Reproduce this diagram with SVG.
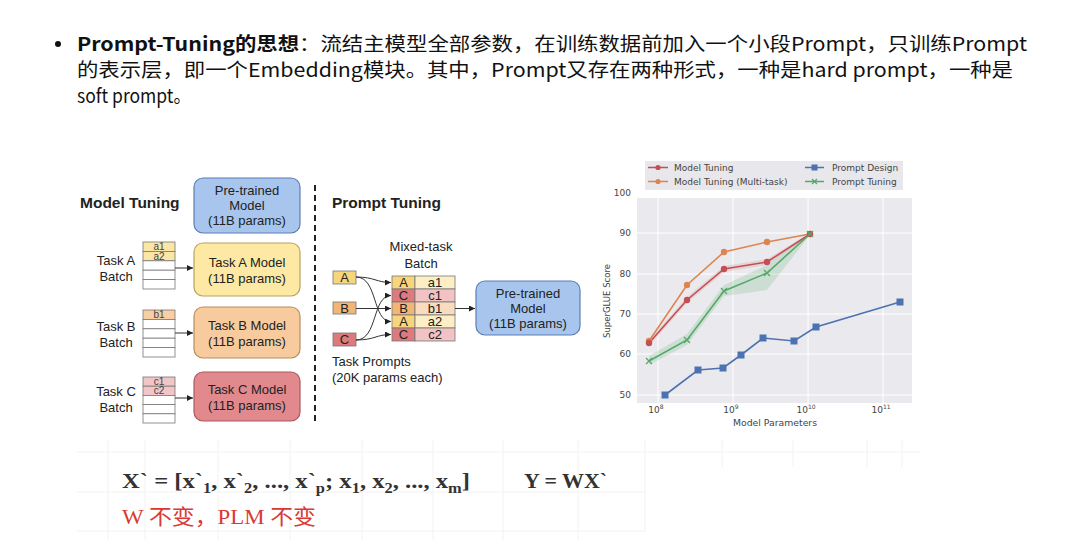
<svg xmlns="http://www.w3.org/2000/svg" width="1080" height="547" viewBox="0 0 1080 547">
<defs>
<style>
.title{font-family:"Noto Sans CJK SC","Noto Sans",sans-serif;font-size:19px;fill:#111}
.d{font-family:"Liberation Sans",Arial,sans-serif;fill:#222}
.lbl{font-size:13px;text-anchor:middle}
.sm{font-size:10px;text-anchor:middle;fill:#444}
.hd{font-size:15.5px;font-weight:bold}
.box{stroke-width:1.2}
.cell{stroke:#777;stroke-width:0.8}
.conn{fill:none;stroke:#333;stroke-width:1}
.ax{font-family:"DejaVu Sans",sans-serif;font-size:9px;fill:#444}
.grid line{stroke:#fff;stroke-width:1}
.bg line{stroke:#f2f2f2;stroke-width:1}
.f{font-family:"Liberation Serif","Noto Sans CJK SC",serif;font-size:21px}
</style>
<marker id="ah" viewBox="0 0 6 6" refX="6" refY="3" markerWidth="6" markerHeight="6" orient="auto" markerUnits="userSpaceOnUse">
<path d="M0,0 L6,3 L0,6 z" fill="#222"/>
</marker>
<g id="sq"><rect x="-3.5" y="-3.5" width="7" height="7" fill="#4C72B0"/></g>
<g id="cx"><path d="M-3,-3 L3,3 M-3,3 L3,-3" stroke="#55A868" stroke-width="1.3"/></g>
</defs>
<rect width="1080" height="547" fill="#fff"/>

<!-- title text -->
<g id="title">
<circle cx="58" cy="44" r="3" fill="#111"/>
<text class="title" x="77" y="51" textLength="950" lengthAdjust="spacingAndGlyphs"><tspan font-weight="bold">Prompt-Tuning的思想</tspan>：流结主模型全部参数，在训练数据前加入一个小段Prompt，只训练Prompt</text>
<text class="title" x="77" y="77" textLength="936" lengthAdjust="spacingAndGlyphs">的表示层，即一个Embedding模块。其中，Prompt又存在两种形式，一种是hard prompt，一种是</text>
<text class="title" x="77" y="103" textLength="114" lengthAdjust="spacingAndGlyphs">soft prompt。</text>
</g>

<!-- faint background grid below -->
<g class="bg">
<line x1="77" y1="452" x2="920" y2="452"/>
<line x1="77" y1="492" x2="645" y2="492"/>
<line x1="77" y1="531" x2="645" y2="531"/>
<line x1="108" y1="440" x2="108" y2="540"/>
<line x1="145" y1="440" x2="145" y2="540"/>
<line x1="218" y1="440" x2="218" y2="540"/>
<line x1="290" y1="440" x2="290" y2="540"/>
<line x1="362" y1="440" x2="362" y2="540"/>
<line x1="433" y1="440" x2="433" y2="540"/>
<line x1="503" y1="440" x2="503" y2="540"/>
<line x1="578" y1="440" x2="578" y2="540"/>
<line x1="645" y1="440" x2="645" y2="531"/>
<line x1="722" y1="440" x2="722" y2="467"/>
<line x1="793" y1="440" x2="793" y2="467"/>
<line x1="867" y1="440" x2="867" y2="467"/>
<line x1="902" y1="440" x2="902" y2="467"/>
</g>

<!-- Model tuning section -->
<text class="d hd" x="80" y="208">Model Tuning</text>
<text class="d hd" x="332" y="208">Prompt Tuning</text>
<line id="divider" x1="315" y1="185" x2="315" y2="424" stroke="#222" stroke-width="2" stroke-dasharray="6 4"/>

<g id="pretrained-left">
<rect class="box" x="194" y="178" width="106" height="55" rx="9" fill="#a8c5ee" stroke="#5b7fb5"/>
<text class="d lbl" x="247" y="195">Pre-trained</text>
<text class="d lbl" x="247" y="210">Model</text>
<text class="d lbl" x="247" y="225">(11B params)</text>
</g>

<g id="taskA">
<text class="d lbl" x="116" y="265">Task A</text>
<text class="d lbl" x="116" y="281">Batch</text>
<rect class="cell" x="143" y="242" width="32" height="9.4" fill="#fbe6a6"/>
<rect class="cell" x="143" y="251.4" width="32" height="9.4" fill="#fbe6a6"/>
<rect class="cell" x="143" y="260.8" width="32" height="9.4" fill="#fff"/>
<rect class="cell" x="143" y="270.2" width="32" height="9.4" fill="#fff"/>
<rect class="cell" x="143" y="279.6" width="32" height="9.4" fill="#fff"/>
<text class="d sm" x="159" y="250">a1</text>
<text class="d sm" x="159" y="259.5">a2</text>
<rect class="box" x="194" y="243" width="106" height="53" rx="9" fill="#fde9a4" stroke="#b9a35a"/>
<text class="d lbl" x="247" y="267">Task A Model</text>
<text class="d lbl" x="247" y="283">(11B params)</text>
</g>

<g id="taskB">
<text class="d lbl" x="116" y="331">Task B</text>
<text class="d lbl" x="116" y="347">Batch</text>
<rect class="cell" x="143" y="310" width="32" height="9.4" fill="#f8cfa5"/>
<rect class="cell" x="143" y="319.4" width="32" height="9.4" fill="#fff"/>
<rect class="cell" x="143" y="328.8" width="32" height="9.4" fill="#fff"/>
<rect class="cell" x="143" y="338.2" width="32" height="9.4" fill="#fff"/>
<rect class="cell" x="143" y="347.6" width="32" height="9.4" fill="#fff"/>
<text class="d sm" x="159" y="318">b1</text>
<rect class="box" x="194" y="307" width="106" height="51" rx="9" fill="#f8cb9e" stroke="#b98d5e"/>
<text class="d lbl" x="247" y="330">Task B Model</text>
<text class="d lbl" x="247" y="346">(11B params)</text>
</g>

<g id="taskC">
<text class="d lbl" x="116" y="396">Task C</text>
<text class="d lbl" x="116" y="412">Batch</text>
<rect class="cell" x="143" y="377" width="32" height="9.2" fill="#f2c5c7"/>
<rect class="cell" x="143" y="386.2" width="32" height="9.2" fill="#f2c5c7"/>
<rect class="cell" x="143" y="395.4" width="32" height="9.2" fill="#fff"/>
<rect class="cell" x="143" y="404.6" width="32" height="9.2" fill="#fff"/>
<rect class="cell" x="143" y="413.8" width="32" height="9.2" fill="#fff"/>
<text class="d sm" x="159" y="385">c1</text>
<text class="d sm" x="159" y="394">c2</text>
<rect class="box" x="194" y="372" width="106" height="49" rx="9" fill="#e2898d" stroke="#a85a5e"/>
<text class="d lbl" x="247" y="394">Task C Model</text>
<text class="d lbl" x="247" y="410">(11B params)</text>
</g>

<!-- Prompt tuning section -->
<g id="prompts">
<rect class="cell" x="333" y="271" width="23" height="13" fill="#f7d57c"/>
<text class="d lbl" x="344.5" y="282" font-size="12">A</text>
<rect class="cell" x="333" y="302" width="23" height="12" fill="#f3b577"/>
<text class="d lbl" x="344.5" y="312.5" font-size="12">B</text>
<rect class="cell" x="333" y="333" width="23" height="13" fill="#dc7a7d"/>
<text class="d lbl" x="344.5" y="344" font-size="12">C</text>
<text class="d" x="332" y="366" font-size="13">Task Prompts</text>
<text class="d" x="332" y="382" font-size="13">(20K params each)</text>
</g>

<g id="mixed-batch">
<text class="d lbl" x="421" y="251">Mixed-task</text>
<text class="d lbl" x="421" y="268">Batch</text>
<rect class="cell" x="392" y="276" width="23" height="13" fill="#f7d57c"/>
<rect class="cell" x="415" y="276" width="40" height="13" fill="#fcefc5"/>
<rect class="cell" x="392" y="289" width="23" height="13" fill="#dc7a7d"/>
<rect class="cell" x="415" y="289" width="40" height="13" fill="#f2c3c4"/>
<rect class="cell" x="392" y="302" width="23" height="13" fill="#f3b577"/>
<rect class="cell" x="415" y="302" width="40" height="13" fill="#f9dcbf"/>
<rect class="cell" x="392" y="315" width="23" height="13" fill="#f7d57c"/>
<rect class="cell" x="415" y="315" width="40" height="13" fill="#fcefc5"/>
<rect class="cell" x="392" y="328" width="23" height="13" fill="#dc7a7d"/>
<rect class="cell" x="415" y="328" width="40" height="13" fill="#f2c3c4"/>
<text class="d lbl" x="403.5" y="287" font-size="12">A</text>
<text class="d lbl" x="435" y="287" font-size="12">a1</text>
<text class="d lbl" x="403.5" y="300" font-size="12">C</text>
<text class="d lbl" x="435" y="300" font-size="12">c1</text>
<text class="d lbl" x="403.5" y="313" font-size="12">B</text>
<text class="d lbl" x="435" y="313" font-size="12">b1</text>
<text class="d lbl" x="403.5" y="326" font-size="12">A</text>
<text class="d lbl" x="435" y="326" font-size="12">a2</text>
<text class="d lbl" x="403.5" y="339" font-size="12">C</text>
<text class="d lbl" x="435" y="339" font-size="12">c2</text>
</g>

<g id="pretrained-right">
<rect class="box" x="476" y="281" width="104" height="54" rx="9" fill="#a8c5ee" stroke="#5b7fb5"/>
<text class="d lbl" x="528" y="298">Pre-trained</text>
<text class="d lbl" x="528" y="313">Model</text>
<text class="d lbl" x="528" y="328">(11B params)</text>
</g>

<g id="connectors">
<line class="conn" x1="175" y1="268" x2="193" y2="268" marker-end="url(#ah)"/>
<line class="conn" x1="175" y1="333" x2="193" y2="333" marker-end="url(#ah)"/>
<line class="conn" x1="175" y1="398" x2="193" y2="398" marker-end="url(#ah)"/>
<path class="conn" d="M356,277 C375,277 376,282.5 391,282.5" marker-end="url(#ah)"/>
<path class="conn" d="M356,277 C378,277 372,321.5 391,321.5" marker-end="url(#ah)"/>
<line class="conn" x1="356" y1="308.5" x2="391" y2="308.5" marker-end="url(#ah)"/>
<path class="conn" d="M356,340 C378,340 372,295.5 391,295.5" marker-end="url(#ah)"/>
<path class="conn" d="M356,340 C375,340 376,334.5 391,334.5" marker-end="url(#ah)"/>
<line class="conn" x1="455" y1="308.5" x2="475" y2="308.5" marker-end="url(#ah)"/>
</g>

<!-- chart -->
<g id="chart">
<rect x="637" y="198" width="275" height="205" fill="#eaeaee"/>
<g class="grid">
<line x1="637" y1="233" x2="912" y2="233"/>
<line x1="637" y1="274" x2="912" y2="274"/>
<line x1="637" y1="314" x2="912" y2="314"/>
<line x1="637" y1="354" x2="912" y2="354"/>
<line x1="637" y1="395" x2="912" y2="395"/>
<line x1="658" y1="198" x2="658" y2="403"/>
<line x1="733" y1="198" x2="733" y2="403"/>
<line x1="808" y1="198" x2="808" y2="403"/>
<line x1="883" y1="198" x2="883" y2="403"/>
</g>
<g class="ax" text-anchor="end">
<text x="631" y="196">100</text>
<text x="631" y="236">90</text>
<text x="631" y="277">80</text>
<text x="631" y="317">70</text>
<text x="631" y="357">60</text>
<text x="631" y="398">50</text>
</g>
<g class="ax" text-anchor="middle">
<text x="656" y="413">10<tspan font-size="6" dy="-4">8</tspan></text>
<text x="731" y="413">10<tspan font-size="6" dy="-4">9</tspan></text>
<text x="806" y="413">10<tspan font-size="6" dy="-4">10</tspan></text>
<text x="881" y="413">10<tspan font-size="6" dy="-4">11</tspan></text>
<text x="775" y="426" font-size="9.3">Model Parameters</text>
<text transform="translate(610,301) rotate(-90)" font-size="8.5">SuperGLUE Score</text>
</g>
<!-- bands -->
<polygon points="649,356 687,334 724,285 767,265 810,233 810,235 767,290 724,296 687,345 649,365" fill="#55A868" opacity="0.2"/>
<polygon points="649,340 687,297 724,266 767,259 810,233 810,235 767,265 724,272 687,303 649,346" fill="#C44E52" opacity="0.15"/>
<!-- lines -->
<polyline points="649,341 687,285 724,252 767,242 810,234" fill="none" stroke="#DD8452" stroke-width="1.6"/>
<polyline points="649,343 687,300 724,269 767,262 810,234" fill="none" stroke="#C44E52" stroke-width="1.6"/>
<polyline points="649,361 687,340 724,291 767,273 810,234" fill="none" stroke="#55A868" stroke-width="1.6"/>
<polyline points="665,395 698,370 723,368 741,355 763,338 794,341 816,327 900,302" fill="none" stroke="#4C72B0" stroke-width="1.6"/>
<g fill="#DD8452">
<circle cx="649" cy="341" r="3.2"/><circle cx="687" cy="285" r="3.2"/><circle cx="724" cy="252" r="3.2"/><circle cx="767" cy="242" r="3.2"/><circle cx="810" cy="234" r="3.2"/>
</g>
<g fill="#C44E52">
<circle cx="649" cy="343" r="3.2"/><circle cx="687" cy="300" r="3.2"/><circle cx="724" cy="269" r="3.2"/><circle cx="767" cy="262" r="3.2"/><circle cx="810" cy="234" r="3.2"/>
</g>
<use href="#cx" x="649" y="361"/><use href="#cx" x="687" y="340"/><use href="#cx" x="724" y="291"/><use href="#cx" x="767" y="273"/><use href="#cx" x="810" y="234"/>
<use href="#sq" x="665" y="395"/><use href="#sq" x="698" y="370"/><use href="#sq" x="723" y="368"/><use href="#sq" x="741" y="355"/><use href="#sq" x="763" y="338"/><use href="#sq" x="794" y="341"/><use href="#sq" x="816" y="327"/><use href="#sq" x="900" y="302"/>
<!-- legend -->
<rect x="645" y="161" width="258" height="29" fill="#e8e8ec"/>
<line x1="648" y1="167.5" x2="668" y2="167.5" stroke="#C44E52" stroke-width="1.5"/><circle cx="658" cy="167.5" r="2.6" fill="#C44E52"/>
<line x1="648" y1="181.5" x2="668" y2="181.5" stroke="#DD8452" stroke-width="1.5"/><circle cx="658" cy="181.5" r="2.6" fill="#DD8452"/>
<line x1="805" y1="167.5" x2="824" y2="167.5" stroke="#4C72B0" stroke-width="1.5"/><rect x="811.5" y="164.5" width="6" height="6" fill="#4C72B0"/>
<line x1="805" y1="181.5" x2="824" y2="181.5" stroke="#55A868" stroke-width="1.5"/><path d="M812,179 L817,184 M812,184 L817,179" stroke="#55A868" stroke-width="1.2"/>
<text class="ax" x="674" y="171">Model Tuning</text>
<text class="ax" x="674" y="185">Model Tuning (Multi-task)</text>
<text class="ax" x="832" y="171">Prompt Design</text>
<text class="ax" x="832" y="185">Prompt Tuning</text>
</g>

<!-- formulas -->
<g id="formula">
<text class="f" x="122" y="488" font-weight="bold" fill="#333" textLength="348" lengthAdjust="spacingAndGlyphs">X` = [x`<tspan font-size="14" dy="5">1</tspan><tspan dy="-5">, x`</tspan><tspan font-size="14" dy="5">2</tspan><tspan dy="-5">, ..., x`</tspan><tspan font-size="14" dy="5">p</tspan><tspan dy="-5">; x</tspan><tspan font-size="14" dy="5">1</tspan><tspan dy="-5">, x</tspan><tspan font-size="14" dy="5">2</tspan><tspan dy="-5">, ..., x</tspan><tspan font-size="14" dy="5">m</tspan><tspan dy="-5">]</tspan></text>
<text class="f" x="524" y="488" font-weight="bold" fill="#333" textLength="83" lengthAdjust="spacingAndGlyphs">Y = WX`</text>
<text class="f" x="122" y="524" fill="#d83a33" textLength="194" lengthAdjust="spacingAndGlyphs">W 不变，PLM 不变</text>
</g>
</svg>
